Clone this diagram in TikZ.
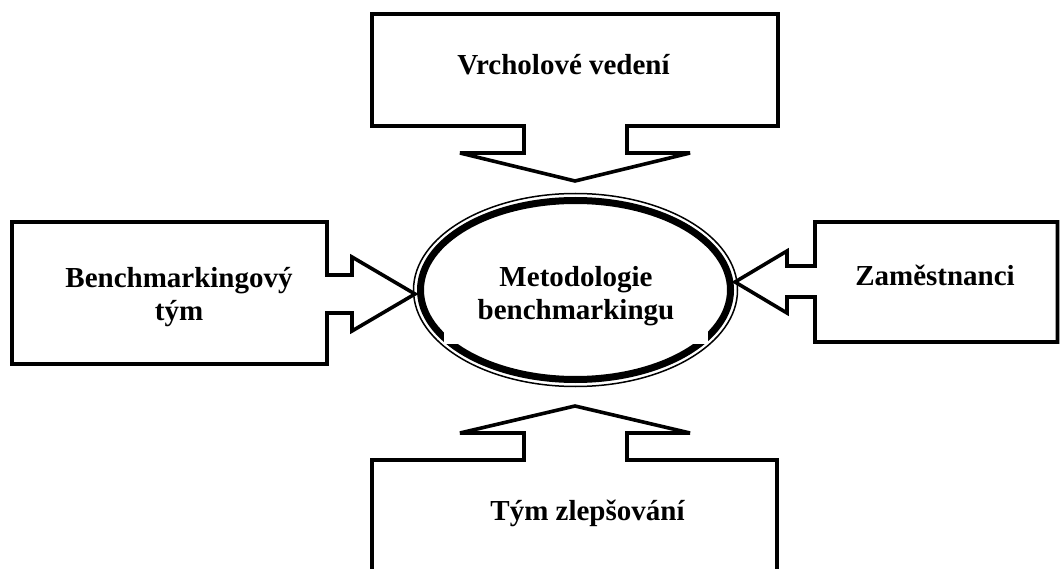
\documentclass[tikz,border=0pt]{standalone}
\usepackage{fontspec}
\setmainfont{Liberation Serif}
\begin{document}
\begin{tikzpicture}[x=1pt,y=-1pt,
  callout/.style={draw=black, line width=3.6pt, line join=miter, miter limit=3, fill=white},
  label/.style={font=\fontsize{29}{33}\selectfont\bfseries, align=center, inner sep=0pt},
]
\useasboundingbox (0,0) rectangle (1060,569);
\clip (0,0) rectangle (1060,569);

% top callout pointing down
\draw[callout] (372,14) -- (778,14) -- (778,126) -- (627,126) -- (627,153) -- (690,153)
  -- (575,181) -- (460,153) -- (524,153) -- (524,126) -- (372,126) -- cycle;
% left callout pointing right
\draw[callout] (12,222) -- (327,222) -- (327,275) -- (352,275) -- (352,257) -- (415,294)
  -- (352,331) -- (352,313) -- (327,313) -- (327,364) -- (12,364) -- cycle;
% right callout pointing left
\draw[callout] (1057.5,222) -- (815,222) -- (815,266) -- (787,266) -- (787,251) -- (735,282)
  -- (787,313) -- (787,297) -- (815,297) -- (815,342) -- (1057.5,342) -- cycle;
% bottom callout pointing up
\draw[callout] (372,580) -- (372,460) -- (524,460) -- (524,433) -- (460,433) -- (575,406)
  -- (690,433) -- (627,433) -- (627,460) -- (777,460) -- (777,580);

% central double ellipse
\draw[line width=1.5pt] (575.5,290) ellipse [x radius=162, y radius=96.5];
\draw[line width=7pt] (575.5,290) ellipse [x radius=155, y radius=89.5];

% labels
\node[label, fill=white, minimum width=264pt, minimum height=96pt] (hub) at (576,296)
  {Metodologie\\benchmarkingu};
\node[label, anchor=base] (top) at (563.5,75) {Vrcholové vedení};
\node[label] (left) at (179,297) {Benchmarkingový\\tým};
\node[label, anchor=base] (right) at (935,286) {Zaměstnanci};
\node[label, anchor=base] (bottom) at (587.5,520) {Tým zlepšování};
\end{tikzpicture}
\end{document}
